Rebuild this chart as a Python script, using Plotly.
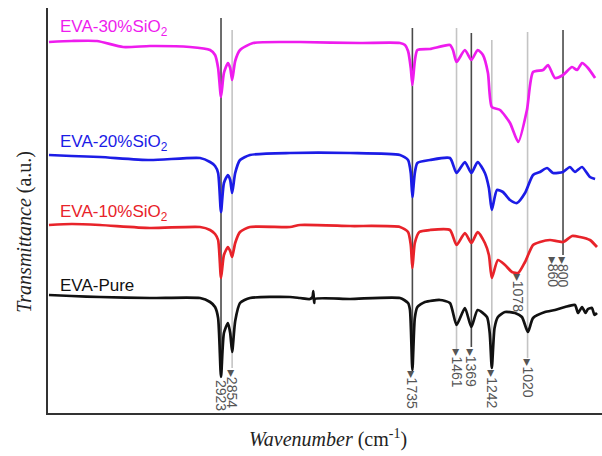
import plotly.graph_objects as go

# ---------------- data (wavenumber in cm-1, transmittance in a.u.) ----------------
wn_30 = [3991, 3850, 3693, 3531, 3364, 3116, 2991, 2960, 2941, 2923, 2905, 2880, 2866, 2854, 2835,
         2805, 2724, 2495, 2433, 2060, 1812, 1781, 1762, 1745, 1735, 1720, 1704, 1626, 1502, 1483,
         1461, 1409, 1369, 1330, 1297, 1266, 1242, 1191, 1129, 1078, 1024, 986, 924, 893, 850,
         800, 744, 713, 682, 645, 601]
tr_30 = [371, 372, 372, 366, 367, 366, 363, 358, 345, 316, 340, 350, 345, 333, 352,
         363, 370, 371, 371, 370, 370, 368, 362, 345, 328, 352, 363, 364, 368, 363,
         351, 363, 353, 363, 358, 340, 306, 303, 290, 271, 303, 341, 343, 348, 335,
         338, 346, 343, 350, 345, 335]

wn_20 = [3991, 3850, 3674, 3364, 3053, 2991, 2960, 2941, 2923, 2905, 2880, 2866, 2854, 2835, 2805,
         2743, 2495, 2122, 1812, 1762, 1745, 1735, 1720, 1704, 1626, 1502, 1461, 1409, 1369, 1330,
         1285, 1260, 1242, 1210, 1173, 1129, 1086, 1036, 986, 943, 899, 862, 800, 757, 726,
         682, 633, 601]
tr_20 = [258, 257, 256, 253, 255, 251, 247, 240, 201, 230, 238, 233, 220, 240, 253,
         258, 260, 260, 258, 253, 240, 216, 240, 250, 253, 255, 240, 251, 240, 251,
         240, 225, 203, 223, 221, 213, 210, 220, 238, 241, 245, 240, 241, 246, 241,
         246, 236, 234]

wn_10 = [3991, 3850, 3674, 3364, 3053, 2991, 2960, 2941, 2923, 2905, 2880, 2866, 2854, 2835, 2805,
         2743, 2495, 2433, 2122, 1812, 1762, 1745, 1735, 1720, 1692, 1626, 1502, 1461, 1409, 1369,
         1330, 1285, 1260, 1242, 1204, 1160, 1117, 1078, 1036, 986, 943, 881, 800, 744, 695,
         633, 589]
tr_10 = [188, 189, 188, 185, 186, 183, 179, 173, 135, 158, 166, 162, 156, 170, 181,
         186, 186, 188, 187, 186, 181, 168, 145, 170, 181, 183, 183, 168, 180, 170,
         181, 170, 158, 135, 153, 148, 141, 140, 151, 168, 171, 173, 171, 177, 176,
         173, 166]

wn_0 = [3991, 3850, 3674, 3364, 3053, 2991, 2960, 2941, 2923, 2905, 2880, 2866, 2854, 2835, 2805,
        2743, 2495, 2433, 2371, 2355, 2350, 2345, 2340, 2122, 1812, 1762, 1750, 1735, 1720, 1704,
        1657, 1564, 1502, 1461, 1409, 1369, 1330, 1272, 1255, 1242, 1225, 1204, 1160, 1098, 1055,
        1018, 986, 912, 850, 788, 726, 707, 682, 660, 645, 620, 605, 589]
tr_0 = [118, 117, 116, 115, 115, 111, 106, 95, 36, 80, 90, 80, 61, 92, 110,
        115, 116, 115, 114, 116, 122, 110, 114, 114, 115, 110, 103, 43, 95, 106,
        111, 113, 110, 88, 105, 86, 103, 96, 80, 45, 85, 96, 101, 100, 96,
        81, 95, 101, 103, 106, 108, 100, 106, 100, 104, 105, 98, 100]

series_names = ["EVA-30%SiO<sub>2</sub>", "EVA-20%SiO<sub>2</sub>", "EVA-10%SiO<sub>2</sub>", "EVA-Pure"]

peak_labels = ["2923", "2854", "1735", "1461", "1369", "1242", "1078", "1020", "860", "800"]
peak_wn = [2923, 2854, 1735, 1461, 1369, 1242, 1078, 1020, 860, 800]
line_wn = [2923, 2854, 1735, 1461, 1369, 1242, 1020, 800]

# ---------------- styling / placement ----------------
colors = ["#ee1cee", "#1c1ce6", "#e8232a", "#111111"]
label_y = [385, 270, 200, 128]
peak_label_y = [18, 24, 23, 45, 45, 24, 120, 35, 141, 141]
peak_arrow = [False, True, True, True, True, True, True, True, True, True]
line_top = [395, 383, 385, 385, 380, 373, 381, 383]
line_bot = [36, 45, 45, 63, 66, 45, 55, 158]
line_col = ["#4a4a4a", "#c4c4c4", "#4a4a4a", "#c4c4c4", "#4a4a4a", "#c4c4c4", "#c4c4c4", "#4a4a4a"]

fig = go.Figure()

for wn, tr, c in zip([wn_30, wn_20, wn_10, wn_0], [tr_30, tr_20, tr_10, tr_0], colors):
    fig.add_trace(go.Scatter(x=wn, y=tr, mode="lines",
                             line=dict(color=c, width=2.7, shape="spline", smoothing=0.6),
                             showlegend=False, hoverinfo="skip"))

shapes = []
for w, t, b, c in zip(line_wn, line_top, line_bot, line_col):
    shapes.append(dict(type="line", xref="x", yref="y", x0=w, x1=w, y0=b, y1=t,
                       line=dict(color=c, width=1.6), layer="below"))

annotations = []
for name, c, y in zip(series_names, colors, label_y):
    annotations.append(dict(x=3935, y=y, xref="x", yref="y", text=name, showarrow=False,
                            xanchor="left", yanchor="middle",
                            font=dict(family="Liberation Sans, Arial", size=17, color=c)))

for lab, w, y, a in zip(peak_labels, peak_wn, peak_label_y, peak_arrow):
    annotations.append(dict(x=w, y=y, xref="x", yref="y", text=("▸" if a else "") + lab,
                            showarrow=False, textangle=90, xanchor="center", yanchor="middle",
                            font=dict(family="Liberation Sans, Arial", size=14, color="#555555")))

annotations.append(dict(x=-0.042, y=0.447, xref="paper", yref="paper",
                        text="<i>Transmittance</i> (a.u.)", showarrow=False, textangle=-90,
                        xanchor="center", yanchor="middle",
                        font=dict(family="Liberation Serif, Times New Roman", size=20, color="#222222")))
annotations.append(dict(x=0.505, y=-0.062, xref="paper", yref="paper",
                        text="<i>Wavenumber</i> (cm<sup>-1</sup>)", showarrow=False,
                        xanchor="center", yanchor="middle",
                        font=dict(family="Liberation Serif, Times New Roman", size=20, color="#222222")))

fig.update_layout(
    width=602, height=456,
    margin=dict(l=48, r=0, t=8, b=43),
    plot_bgcolor="white", paper_bgcolor="white",
    shapes=shapes, annotations=annotations,
    xaxis=dict(range=[3997, 558], showgrid=False, zeroline=False, showticklabels=False,
               ticks="", showline=True, linecolor="#333333", linewidth=2),
    yaxis=dict(range=[0, 405], showgrid=False, zeroline=False, showticklabels=False,
               ticks="", showline=True, linecolor="#333333", linewidth=2),
)

fig.write_html("out.html", config={"displayModeBar": False},
               post_script="document.body.style.margin='0';document.body.style.overflow='hidden';")
